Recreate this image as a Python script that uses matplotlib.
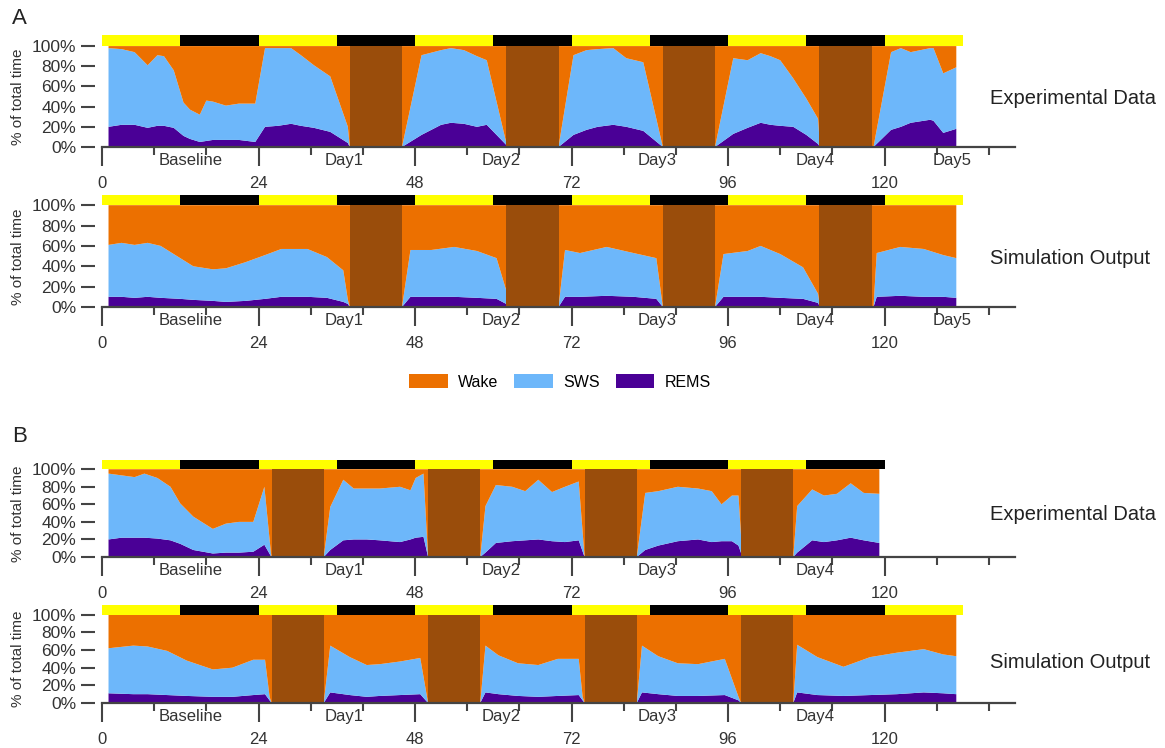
import matplotlib
matplotlib.use('Agg')
import matplotlib.pyplot as plt
from matplotlib.patches import Patch

plt.rcParams['font.family'] = ['Liberation Sans', 'DejaVu Sans']

# ---------------- data ----------------
# Panel A, experimental data (hour, REMS %, SWS %); wake = 100 - REMS - SWS
a_exp_hours = [1, 3, 5, 7, 8.5, 9.5, 11, 12.5, 13.5, 15, 16, 17, 19, 21, 23.5, 25, 27, 29, 30.5,
               32.5, 35, 37.7, 38, 46, 49, 52, 53.5, 55.5, 57.5, 59, 62, 62.3, 70, 72.3, 74.3,
               76, 78.4, 80.4, 83, 86, 94, 96.8, 99, 101, 102.5, 104, 106, 108, 109.8, 110.1,
               118.3, 121, 122.5, 124, 127, 127.5, 129, 131]
a_exp_rems = [20, 22, 22, 19, 21, 21, 19, 11, 8, 5, 6, 7, 7, 7, 5, 20, 21, 23, 21,
              19, 15, 4, 0, 0, 12, 22, 24, 23, 20, 22, 2, 0, 0, 12, 17,
              20, 22, 20, 16, 0, 0, 13, 19, 24, 22, 21, 20, 12, 3, 0,
              0, 17, 20, 24, 27, 26, 14, 18]
a_exp_sws = [78, 75, 72, 62, 70, 69, 57, 33, 29, 27, 40, 38, 34, 36, 38, 78, 77, 75, 70,
             62, 55, 16, 0, 0, 79, 74, 74, 73, 70, 64, 2, 0, 0, 79, 79,
             77, 76, 68, 68, 0, 0, 75, 67, 69, 68, 65, 48, 36, 25, 0,
             0, 77, 78, 70, 71, 72, 59, 61]

# Panel A, simulation output
a_sim_hours = [1, 3, 5, 7, 9, 12, 14, 17, 19, 22, 25, 27.5, 31.5, 34.5, 37, 37.7, 38, 46,
               47.3, 50.5, 54, 57.5, 60.5, 62, 62.3, 70, 71, 73.3, 77.4, 81.5, 85, 86, 94,
               95.3, 99, 101, 104, 107.5, 109.8, 110.1, 118.3, 118.8, 122.4, 126, 129, 131]
a_sim_rems = [10, 10, 9, 10, 9, 8, 7, 6, 5, 6, 8, 10, 10, 9, 5, 3, 0, 0,
              10, 10, 10, 9, 8, 3, 0, 0, 10, 10, 11, 10, 8, 0, 0,
              10, 10, 10, 9, 8, 4, 0, 0, 10, 11, 10, 10, 9]
a_sim_sws = [51, 53, 52, 53, 51, 40, 33, 31, 33, 38, 43, 47, 47, 40, 31, 4, 0, 0,
             46, 46, 49, 46, 40, 13, 0, 0, 46, 43, 48, 43, 40, 0, 0,
             42, 45, 50, 43, 31, 9, 0, 0, 43, 48, 47, 41, 39]

# Panel B, experimental data
b_exp_hours = [1, 3, 5, 6.5, 8.5, 10.5, 12, 14, 17, 19, 21, 23.2, 24.9, 25.9, 26, 34, 35, 37,
               38.6, 40.6, 42.6, 45.7, 47.3, 48.1, 49.3, 50, 58, 58.8, 60.4, 62.9, 64.9, 66.9,
               69, 71, 73.1, 74, 82, 83.3, 85.3, 88.3, 91.4, 93.5, 95, 96.6, 97.6, 98.2, 106,
               106.6, 108.9, 110.7, 112.7, 114.8, 116.8, 119.2]
b_exp_rems = [20, 22, 22, 22, 21, 19, 15, 8, 4, 5, 5, 6, 14, 1, 0, 0, 8, 19,
              20, 20, 19, 17, 20, 22, 23, 0, 0, 5, 16, 18, 19, 20,
              18, 17, 19, 0, 0, 8, 13, 18, 20, 17, 18, 18, 13, 0, 0,
              5, 19, 17, 19, 22, 19, 16]
b_exp_sws = [75, 71, 69, 73, 69, 61, 46, 38, 28, 33, 35, 34, 66, 4, 0, 0, 49, 69,
             58, 58, 59, 63, 56, 68, 72, 0, 0, 53, 66, 62, 56, 68,
             56, 63, 67, 0, 0, 65, 62, 62, 58, 58, 42, 52, 57, 0, 0,
             53, 58, 53, 53, 62, 54, 56]

# Panel B, simulation output
b_sim_hours = [1, 4.8, 7, 10, 13, 17, 20, 23.2, 25, 25.7, 26, 34, 35, 38, 40.6, 42.6, 45.7,
               48.8, 50, 58, 58.8, 60.8, 63.8, 66.9, 69.9, 73.1, 73.7, 74, 82, 82.8, 85.3,
               88.3, 91.4, 95.5, 97.6, 98, 106, 106.6, 109.7, 113.7, 117.8, 121.9, 126, 129, 131]
b_sim_rems = [11, 10, 10, 9, 8, 7, 7, 9, 10, 3, 0, 0, 12, 9, 7, 8, 9,
              10, 0, 0, 12, 10, 8, 7, 8, 9, 3, 0, 0, 12, 10,
              8, 8, 9, 3, 0, 0, 12, 9, 8, 9, 10, 12, 11, 10]
b_sim_sws = [51, 55, 54, 50, 40, 31, 33, 40, 39, 4, 0, 0, 53, 43, 36, 36, 38,
             41, 0, 0, 53, 44, 37, 36, 42, 41, 4, 0, 0, 53, 43,
             37, 36, 41, 4, 0, 0, 54, 43, 33, 43, 47, 49, 44, 43]

# sleep-deprivation windows (hours)
a_sd_windows = [(38, 46), (62, 70), (86, 94), (110, 118)]
b_sd_windows = [(26, 34), (50, 58), (74, 82), (98, 106)]

# light/dark schedule end (hours) for each subplot
a_exp_ld_end, a_sim_ld_end = 132, 132
b_exp_ld_end, b_sim_ld_end = 120, 132

day_labels = ['Baseline', 'Day1', 'Day2', 'Day3', 'Day4', 'Day5']
day_label_pos = [13.6, 37.1, 61.2, 85.1, 109.4, 130.4]

x_major = [0, 24, 48, 72, 96, 120]
x_minor = [8, 16, 32, 40, 56, 64, 80, 88, 104, 112, 128, 136]
y_ticks = [0, 20, 40, 60, 80, 100]
y_ticklabels = ['0%', '20%', '40%', '60%', '80%', '100%']

series_names = ['Wake', 'SWS', 'REMS']

# ---------------- style ----------------
C_WAKE = '#EC7000'
C_SWS = '#6DB7FA'
C_REMS = '#4A0096'
C_SD = '#9A4D0B'
C_AX = '#444444'

W, H = 1165, 748
fig = plt.figure(figsize=(W / 100, H / 100), dpi=100)


def make_ax(bottom_px, top_px, bar_top):
    # bottom_px: pixel row of 0%, top_px: pixel row of top of light bar
    ax = fig.add_axes([102 / W, 1 - bottom_px / H, 913 / W, (bottom_px - top_px) / H])
    ax.set_xlim(0, 140)
    ax.set_ylim(0, bar_top)
    return ax


def draw(ax, hours, rems, sws, sd_windows, ld_end, n_days, side_label, label_y_px):
    wake = [100 - r - s for r, s in zip(rems, sws)]
    ax.stackplot(hours, rems, sws, wake, colors=[C_REMS, C_SWS, C_WAKE],
                 linewidth=0, zorder=1)
    for (s, e) in sd_windows:
        ax.fill_between([s, e], [0, 0], [100, 100], color=C_SD, linewidth=0, zorder=2)
    starts = list(range(0, ld_end, 12))
    segs = [(s, 12) for s in starts]
    cols = ['#FFFF00' if (s // 12) % 2 == 0 else '#000000' for s in starts]
    ax.broken_barh(segs, (100, ax.get_ylim()[1] - 100), facecolors=cols, zorder=3)

    for sp in ['top', 'right']:
        ax.spines[sp].set_visible(False)
    ax.spines['left'].set_position(('outward', 5))
    ax.spines['left'].set_color('none')
    ax.spines['bottom'].set_color(C_AX)
    ax.spines['bottom'].set_linewidth(1.6)
    ax.spines['bottom'].set_bounds(0, 140)

    ax.set_yticks(y_ticks)
    ax.set_yticklabels(y_ticklabels)
    ax.tick_params(axis='y', length=10, width=1.5, color=C_AX, pad=3.5,
                   labelsize=12.5, labelcolor='#333333')
    ax.set_xticks(x_major)
    ax.set_xticks(x_minor, minor=True)
    ax.tick_params(axis='x', which='major', length=14, width=1.5, color=C_AX, pad=7,
                   labelsize=12, labelcolor='#333333')
    ax.tick_params(axis='x', which='minor', length=6, width=1.5, color=C_AX)
    ax.set_ylabel('% of total time', fontsize=11, color='#333333', labelpad=4)
    ax.yaxis.set_label_coords(-0.084, 0.45)

    for lab, xp in list(zip(day_labels, day_label_pos))[:n_days]:
        ax.annotate(lab, xy=(xp, 0), xycoords=('data', 'axes fraction'),
                    xytext=(0, -9.5), textcoords='offset points', ha='center', va='center',
                    fontsize=12, color='#333333')
    fig.text(990 / W, 1 - label_y_px / H, side_label, fontsize=14.5, color='#222222',
             ha='left', va='center')


ax1 = make_ax(147, 35, 111)
draw(ax1, a_exp_hours, a_exp_rems, a_exp_sws, a_sd_windows, a_exp_ld_end, 6,
     'Experimental Data', 98)
ax2 = make_ax(307, 195, 110)
draw(ax2, a_sim_hours, a_sim_rems, a_sim_sws, a_sd_windows, a_sim_ld_end, 6,
     'Simulation Output', 258)
ax3 = make_ax(557, 460, 110.5)
draw(ax3, b_exp_hours, b_exp_rems, b_exp_sws, b_sd_windows, b_exp_ld_end, 5,
     'Experimental Data', 515)
ax4 = make_ax(703, 605, 111)
draw(ax4, b_sim_hours, b_sim_rems, b_sim_sws, b_sd_windows, b_sim_ld_end, 5,
     'Simulation Output', 662)

fig.text(12 / W, 1 - 18 / H, 'A', fontsize=16, color='#222222', ha='left', va='center')
fig.text(12 / W, 1 - 437 / H, 'B', fontsize=16, color='#222222', ha='left', va='center')

handles = [Patch(facecolor=C_WAKE), Patch(facecolor=C_SWS), Patch(facecolor=C_REMS)]
fig.legend(handles, series_names, loc='center', bbox_to_anchor=(560 / W, 1 - 382 / H),
           ncol=3, frameon=False, fontsize=11.5, handlelength=2.4, handleheight=0.9,
           handletextpad=0.65, columnspacing=1.0)

fig.savefig('out.png', dpi=100)
